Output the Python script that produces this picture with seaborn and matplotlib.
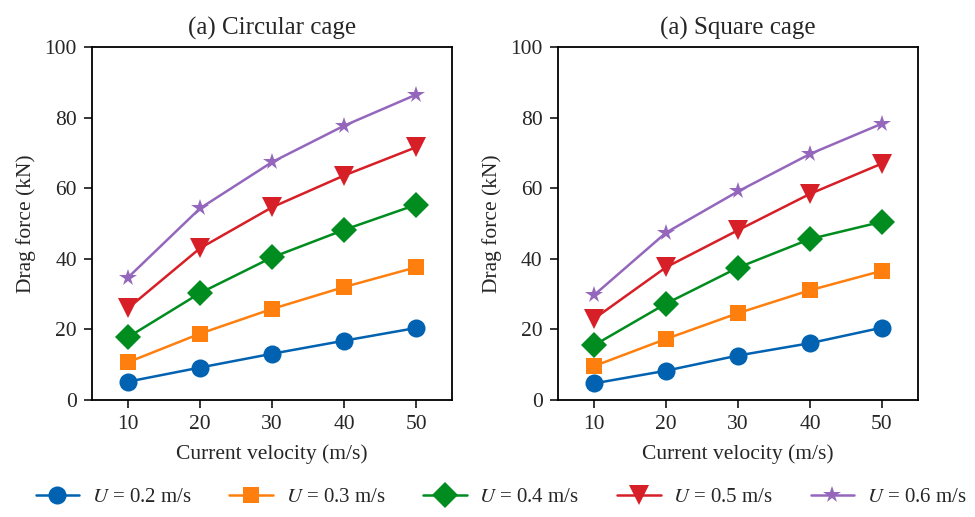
import numpy as np
import pandas as pd
import matplotlib
matplotlib.use("Agg")
import matplotlib.pyplot as plt
import seaborn as sns

# Data
velocity = [10, 20, 30, 40, 50]
series_labels = ["$U$ = 0.2 m/s", "$U$ = 0.3 m/s", "$U$ = 0.4 m/s",
                 "$U$ = 0.5 m/s", "$U$ = 0.6 m/s"]

circular_02 = [5.2, 9.2, 13.1, 16.8, 20.4]
circular_03 = [10.7, 18.8, 25.8, 32.0, 37.6]
circular_04 = [17.8, 30.3, 40.4, 48.2, 55.3]
circular_05 = [26.0, 43.0, 54.6, 63.6, 71.6]
circular_06 = [34.7, 54.3, 67.4, 77.7, 86.5]

square_02 = [4.7, 8.3, 12.6, 16.1, 20.5]
square_03 = [9.6, 17.3, 24.6, 31.1, 36.6]
square_04 = [15.5, 27.3, 37.5, 45.6, 50.5]
square_05 = [23.0, 37.6, 48.1, 58.4, 67.0]
square_06 = [29.7, 47.4, 59.1, 69.7, 78.3]

titles = ["(a) Circular cage", "(a) Square cage"]
colors = ["#0062B0", "#FF7F0E", "#008C1E", "#D61F26", "#9467BD"]
markers = ["o", "s", "D", "v", "*"]
marker_sizes = [13, 12, 13, 14, 13]


def to_frame(groups):
    rows = []
    for label, vals in zip(series_labels, groups):
        for v, f in zip(velocity, vals):
            rows.append({"velocity": v, "force": f, "case": label})
    return pd.DataFrame(rows)


frames = [
    to_frame([circular_02, circular_03, circular_04, circular_05, circular_06]),
    to_frame([square_02, square_03, square_04, square_05, square_06]),
]

sns.set_style("ticks")
plt.rcParams["font.family"] = ["Liberation Serif", "DejaVu Serif"]
plt.rcParams["mathtext.fontset"] = "stix"

fig = plt.figure(figsize=(9.75, 5.17), dpi=100)
ax1 = fig.add_axes([0.0944, 0.2263, 0.3692, 0.6827])
ax2 = fig.add_axes([0.5723, 0.2263, 0.3692, 0.6827])

for ax, df, title in zip([ax1, ax2], frames, titles):
    for i, label in enumerate(series_labels):
        sub = df[df["case"] == label]
        sns.lineplot(data=sub, x="velocity", y="force", ax=ax,
                     color=colors[i], marker=markers[i],
                     markersize=marker_sizes[i], markeredgewidth=0,
                     linewidth=1.8, label=label, legend=False)
    ax.set_xlim(5, 55)
    ax.set_ylim(0, 100)
    ax.set_xticks(velocity)
    ax.set_yticks([0, 20, 40, 60, 80, 100])
    ax.set_title(title, fontsize=18, pad=9)
    ax.set_xlabel("Current velocity (m/s)", fontsize=15.5, labelpad=7)
    ax.set_ylabel("Drag force (kN)", fontsize=15.5, labelpad=6)
    ax.tick_params(labelsize=15.5, width=1.3, length=6, direction="out", pad=5)
    for sp in ax.spines.values():
        sp.set_linewidth(1.3)
        sp.set_color("black")

handles, labels = ax1.get_legend_handles_labels()
fig.legend(handles, labels, loc="center", bbox_to_anchor=(0.514, 0.038),
           ncol=5, frameon=False, fontsize=15, columnspacing=1.8,
           handlelength=2.1, handletextpad=0.6)

fig.savefig("out.png", dpi=100)
